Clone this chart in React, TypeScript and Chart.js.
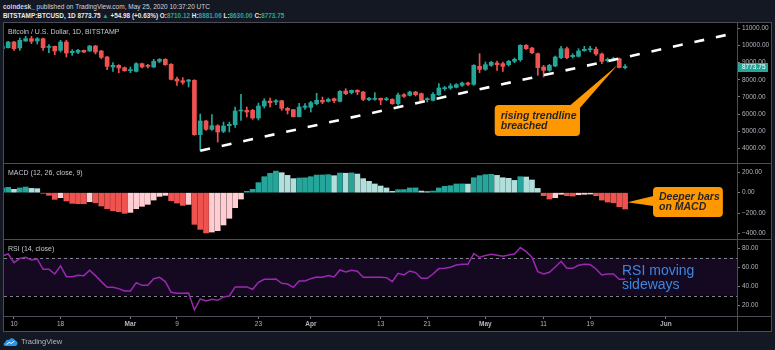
import React, { useEffect, useRef } from "react";
import { Chart, registerables } from "chart.js";

Chart.register(...registerables);

// ---------- data (day index 0 = 10 Feb 2020, first candle = 8 Feb) ----------
const FIRST_DAY = -2;

const OPEN = [
  9816, 9875, 10206, 9855, 10264, 10400, 10264, 10400, 9894, 9953, 9719, 10206, 9583, 9602, 9719, 9680, 9972, 9680, 9330, 8746, 8843, 8707,
  8532, 8493, 8941, 8843, 8746, 9077, 9194, 8902, 8045, 7948, 7909, 7968, 4796, 5594, 5107, 5321, 4991, 5321, 5379, 6177, 6216, 6216, 5769, 6469, 6761, 6703, 6780, 6333, 6255, 5847, 6391,
  6391, 6605, 6800, 6741, 6897, 6741, 7345, 7248, 7384, 7286, 6839, 6858, 6917, 6839, 6858, 6605, 7131, 7092, 7286, 7189, 6839, 6800, 7131, 7481, 7520, 7559, 7676, 7812, 7734, 8785,
  8610, 8843, 8980, 8941, 8882, 9077, 9174, 10011, 9855, 9525, 8746, 8551, 8804, 9291, 9816, 9349, 9369, 9700, 9758, 9778, 9505, 9116, 9174, 9233, 8710.12,
];
const HIGH = [
  9990, 10245, 10245, 10439, 10536, 10536, 10459, 10439, 10050, 9972, 10303, 10303, 9758, 9778, 9739, 10011, 10011, 9719, 9369, 8999, 8882, 8746,
  8746, 8999, 8980, 8902, 9194, 9233, 9233, 8941, 8162, 8123, 8026, 8007, 6002, 5633, 5963, 5379, 5535, 5535, 6411, 7150, 6411, 6275, 6644, 6897, 6936, 6839, 6800, 6391, 6275, 6625, 6605,
  6741, 7209, 6995, 6936, 6936, 7364, 7481, 7403, 7423, 7325, 6975, 7248, 6936, 6975, 6897, 7228, 7189, 7345, 7325, 7228, 6956, 7248, 7773, 7617, 7773, 7773, 7870, 7870, 8882, 9525,
  9038, 9077, 9096, 9038, 9135, 9272, 10050, 10050, 9894, 9563, 8843, 8902, 9388, 9953, 9914, 9525, 9816, 9953, 9953, 9914, 9563, 9272, 9310, 9272, 8881.06,
];
const LOW = [
  9780, 9855, 9719, 9719, 10245, 10108, 10089, 9719, 9583, 9466, 9622, 9330, 9427, 9525, 9583, 9661, 9505, 9233, 8590, 8493, 8415, 8493,
  8415, 8454, 8688, 8688, 8707, 8999, 8843, 7987, 7676, 7734, 7578, 4757, 3881, 5049, 5049, 4368, 4913, 4952, 5224, 5633, 5827, 5691, 5652, 6352, 6411, 6547, 6216, 6002, 5827, 5827, 6275,
  6119, 6547, 6605, 6703, 6664, 6703, 7131, 7170, 7131, 6780, 6780, 6800, 6547, 6780, 6567, 6508, 6975, 7053, 7053, 6703, 6703, 6761, 7092, 7384, 7442, 7520, 7617, 7676, 7676, 8415,
  8551, 8785, 8551, 8493, 8804, 8999, 9077, 9778, 9525, 8260, 8162, 8493, 8765, 9233, 9233, 9272, 9330, 9661, 9622, 9427, 8941, 9038, 9096, 8688, 8630.0,
];
const CLOSE = [
  9953, 10206, 9816, 10303, 10400, 10245, 10400, 9875, 9953, 9680, 10206, 9563, 9661, 9719, 9622, 9972, 9622, 9310, 8785, 8843, 8688, 8532,
  8590, 8941, 8746, 8785, 9077, 9194, 8882, 8026, 7929, 7851, 7987, 4796, 5594, 5107, 5321, 4952, 5301, 5399, 6177, 6216, 6119, 5769, 6469, 6761, 6664, 6780, 6333, 6216, 5847, 6411, 6469,
  6664, 6800, 6703, 6858, 6780, 7325, 7189, 7384, 7286, 6858, 6917, 6897, 6819, 6897, 6605, 7111, 7033, 7286, 7131, 6800, 6897, 7150, 7520, 7540, 7637, 7715, 7812, 7734, 8843, 8610,
  8882, 9018, 8882, 8785, 9077, 9194, 10011, 9816, 9583, 8707, 8551, 8843, 9330, 9816, 9291, 9427, 9680, 9778, 9816, 9505, 9077, 9194, 9233, 8718.77, 8773.75,
];
const MACD_HIST = [
  45, 52, 33, 46, 55, 42, 39, -6, -26, -65, -49, -81, -104, -107, -108, -88, -98, -130, -156, -176, -185, -202,
  -192, -156, -133, -114, -72, -36, -26, -78, -101, -124, -114, -309, -358, -393, -384, -371, -315, -250, -146, -62, 13, 33, 98, 156, 189, 211, 195, 169, 137, 143, 145,
  156, 172, 173, 176, 166, 192, 190, 193, 182, 137, 111, 85, 65, 46, 13, 29, 30, 46, 47, 16, 10, 16, 46, 62, 68, 85, 86, 84, 146, 166,
  176, 179, 169, 146, 140, 120, 156, 153, 124, 42, -29, -62, -49, -16, -29, -33, -20, -16, -13, -29, -72, -91, -98, -137, -159,
];
const RSI = [
  71.9, 74, 64.9, 69.4, 70.5, 67.7, 68.7, 57.9, 57.9, 52.9, 61.4, 50.1, 50.1, 51.5, 51.2, 56.8, 51.2, 44.9, 38.9, 38.9, 37.5, 35.1,
  35.1, 43.8, 41, 41, 48, 49.4, 44.9, 33.7, 32.6, 32.6, 33, 15.1, 26.6, 24.5, 26.3, 25.2, 28.8, 29.8, 39.3, 39.3, 39.3, 36.8, 44.2, 47.3, 47.3, 47.7, 43.1, 42.4, 38.9, 45.6, 45.6,
  48, 49.8, 49.4, 51.2, 49.8, 57.2, 55.1, 56.8, 55.8, 49.4, 49.4, 49.4, 49.4, 49.1, 44.9, 53.7, 51.9, 56.1, 54.4, 48.4, 48.4, 52.9, 58.6, 58.9, 60, 62.4, 63.1, 63.1, 74.4, 70.5,
  72.3, 73.7, 72.6, 71.6, 73, 74, 80.7, 76.5, 70.5, 55.4, 52.9, 54.7, 60.3, 66.3, 58.9, 58.9, 62.1, 63.1, 62.8, 58.2, 51.9, 52.9, 52.9, 47.3, 47.3,
];
const DAYS = OPEN.map((_, i) => FIRST_DAY + i);

const TIME_TICKS = [0, 8, 20, 28, 42, 51, 63, 71, 81, 91, 99, 112];
const TIME_LABELS = ["10", "18", "Mar", "9", "23", "Apr", "13", "21", "May", "11", "19", "Jun"];
const PRICE_TICKS = [4000, 5000, 6000, 7000, 8000, 9000, 10000, 11000];
const MACD_TICKS = [200, 0, -200, -400];
const RSI_TICKS = [80, 60, 40, 20];
const RSI_BAND = [30, 70];
const TREND_DAYS = [32, 130];
const TREND_VALUES = [3860, 11183];

// ---------- styling ----------
const FONT = '"Liberation Sans", Arial, sans-serif';
const GREEN = "#26a69a";
const RED = "#ef5350";
const LIGHT_GREEN = "#b2dfdb";
const PINK = "#ffcdd2";
const TICK_TEXT = "#b2b5be";
const LINE_GRAY = "#4a4d57";
const X_MIN = -1.718;
const X_MAX = 124.23;

const candleColors = OPEN.map((o, i) => (CLOSE[i] >= o ? GREEN : RED));
const macdColors = MACD_HIST.map((v, i) => {
  const prev = i > 0 ? MACD_HIST[i - 1] : v;
  if (v >= 0) return v >= prev ? GREEN : LIGHT_GREEN;
  return v < prev ? RED : PINK;
});

const fmt2 = (v: number) => (v < 0 ? "\u2212" + Math.abs(v).toFixed(2) : Number(v).toFixed(2));

function xHidden() {
  return {
    type: "linear",
    min: X_MIN,
    max: X_MAX,
    bounds: "data",
    offset: false,
    display: false,
    grid: { offset: false },
  };
}

function yRight(min: number, max: number, ticks: number[]) {
  return {
    type: "linear",
    position: "right",
    min,
    max,
    bounds: "data",
    grace: 0,
    afterBuildTicks: (s: any) => {
      s.ticks = ticks.map((v) => ({ value: v }));
    },
    afterFit: (s: any) => {
      s.width = 34;
      s.paddingTop = 0;
      s.paddingBottom = 0;
    },
    grid: { display: true, drawOnChartArea: false, drawTicks: true, tickLength: 3, color: "#787b86", tickColor: "#787b86" },
    border: { display: false },
    ticks: { autoSkip: false, padding: 2, color: TICK_TEXT, font: { size: 6.5, family: FONT }, callback: (v: any) => fmt2(Number(v)) },
  };
}

function baseOptions(scales: any) {
  return {
    animation: false,
    responsive: false,
    devicePixelRatio: 1,
    events: [],
    layout: { padding: 0 },
    plugins: { legend: { display: false }, tooltip: { enabled: false }, title: { display: false } },
    scales,
  };
}

function roundRectPath(ctx: any, x: number, y: number, w: number, h: number, r: number) {
  ctx.beginPath();
  ctx.moveTo(x + r, y);
  ctx.lineTo(x + w - r, y);
  ctx.quadraticCurveTo(x + w, y, x + w, y + r);
  ctx.lineTo(x + w, y + h - r);
  ctx.quadraticCurveTo(x + w, y + h, x + w - r, y + h);
  ctx.lineTo(x + r, y + h);
  ctx.quadraticCurveTo(x, y + h, x, y + h - r);
  ctx.lineTo(x, y + r);
  ctx.quadraticCurveTo(x, y, x + r, y);
  ctx.closePath();
}

function drawCallout(chart: any, spec: any) {
  const { ctx, scales } = chart;
  const xs = scales.x;
  const ys = scales.y;
  const left = xs.getPixelForValue(spec.dayLeft);
  const right = xs.getPixelForValue(spec.dayRight);
  const top = ys.getPixelForValue(spec.top);
  const bottom = ys.getPixelForValue(spec.bottom);
  const tipX = xs.getPixelForValue(spec.tipDay);
  const tipY = ys.getPixelForValue(spec.tipValue);
  const b = spec.base(left, top, right, bottom);
  ctx.save();
  ctx.fillStyle = "#ff9800";
  ctx.beginPath();
  ctx.moveTo(b[0], b[1]);
  ctx.lineTo(tipX, tipY);
  ctx.lineTo(b[2], b[3]);
  ctx.closePath();
  ctx.fill();
  roundRectPath(ctx, left, top, right - left, bottom - top, 4);
  ctx.fill();
  ctx.fillStyle = "#262626";
  ctx.font = `italic bold 10.5px ${FONT}`;
  ctx.textBaseline = "alphabetic";
  ctx.textAlign = "left";
  spec.lines.forEach((t: string, i: number) => {
    ctx.fillText(t, left + 6, top + spec.baselines[i]);
  });
  ctx.restore();
}

const mainOverlay = {
  id: "mainOverlay",
  afterDraw(chart: any) {
    drawCallout(chart, {
      dayLeft: 82.6,
      dayRight: 97.25,
      top: 6528,
      bottom: 4718,
      tipDay: 103.7,
      tipValue: 8860,
      base: (l: number, t: number, r: number) => [r - 10, t + 0.5, r - 1, t + 4],
      lines: ["rising trendline", "breached"],
      baselines: [13.7, 23.7],
    });
    const { ctx, chartArea: a, scales } = chart;
    const last = CLOSE[CLOSE.length - 1];
    const y0 = scales.y.getPixelForValue(last);
    ctx.save();
    ctx.fillStyle = GREEN;
    ctx.fillRect(a.right + 1, Math.round(y0) - 4, 30, 9);
    ctx.fillStyle = "#ffffff";
    ctx.font = `6.5px ${FONT}`;
    ctx.textBaseline = "middle";
    ctx.textAlign = "left";
    ctx.fillText(last.toFixed(2), a.right + 5, Math.round(y0) + 0.5);
    ctx.restore();
  },
};

const macdOverlay = {
  id: "macdOverlay",
  afterDraw(chart: any) {
    drawCallout(chart, {
      dayLeft: 109.8,
      dayRight: 121.8,
      top: 55.6,
      bottom: -237,
      tipDay: 105.4,
      tipValue: -94,
      base: (l: number, t: number) => [l + 0.5, t + 9, l + 0.5, t + 19],
      lines: ["Deeper bars", "on MACD"],
      baselines: [12.7, 23],
    });
  },
};

const rsiBand = {
  id: "rsiBand",
  beforeDatasetsDraw(chart: any) {
    const { ctx, chartArea: a, scales } = chart;
    const yTop = scales.y.getPixelForValue(RSI_BAND[1]);
    const yBot = scales.y.getPixelForValue(RSI_BAND[0]);
    ctx.save();
    ctx.fillStyle = "rgb(21, 9, 34)";
    ctx.fillRect(a.left, yTop, a.right - a.left, yBot - yTop);
    ctx.strokeStyle = "#80838c";
    ctx.lineWidth = 1;
    ctx.setLineDash([3, 3]);
    [yTop, yBot].forEach((yy) => {
      const p = Math.round(yy) + 0.5;
      ctx.beginPath();
      ctx.moveTo(a.left, p);
      ctx.lineTo(a.right, p);
      ctx.stroke();
    });
    ctx.restore();
  },
};

function makeMain(canvas: HTMLCanvasElement) {
  return new Chart(canvas, {
    type: "bar",
    data: {
      datasets: [
        {
          type: "line",
          data: TREND_DAYS.map((d, i) => ({ x: d, y: TREND_VALUES[i] })),
          borderColor: "#ffffff",
          borderWidth: 2.6,
          borderDash: [10, 12],
          pointRadius: 0,
          clip: 0,
          order: 0,
        },
        {
          type: "bar",
          data: DAYS.map((d, i) => ({ x: d, y: [OPEN[i], CLOSE[i]] })),
          backgroundColor: candleColors,
          barThickness: 4,
          minBarLength: 1,
          grouped: false,
          borderWidth: 0,
          clip: 0,
          order: 1,
        },
        {
          type: "bar",
          data: DAYS.map((d, i) => ({ x: d, y: [LOW[i], HIGH[i]] })),
          backgroundColor: candleColors,
          barThickness: 1,
          grouped: false,
          borderWidth: 0,
          clip: 0,
          order: 2,
        },
      ],
    } as any,
    options: baseOptions({ x: xHidden(), y: yRight(3142, 11315, PRICE_TICKS) }) as any,
    plugins: [mainOverlay],
  });
}

function makeMacd(canvas: HTMLCanvasElement) {
  return new Chart(canvas, {
    type: "bar",
    data: {
      datasets: [
        {
          data: DAYS.map((d, i) => ({ x: d, y: MACD_HIST[i] })),
          backgroundColor: macdColors,
          barThickness: 5,
          grouped: false,
          borderWidth: 0,
          clip: 0,
        },
      ],
    } as any,
    options: baseOptions({ x: xHidden(), y: yRight(-452, 280, MACD_TICKS) }) as any,
    plugins: [macdOverlay],
  });
}

function makeRsi(canvas: HTMLCanvasElement) {
  const xAxis = {
    type: "linear",
    position: "bottom",
    min: X_MIN,
    max: X_MAX,
    bounds: "data",
    offset: false,
    afterBuildTicks: (s: any) => {
      s.ticks = TIME_TICKS.map((v) => ({ value: v }));
    },
    afterFit: (s: any) => {
      s.height = 15;
      s.paddingLeft = 0;
      s.paddingRight = 0;
    },
    grid: { display: true, drawOnChartArea: false, drawTicks: true, tickLength: 3, color: "#787b86", tickColor: "#787b86" },
    border: { display: false },
    ticks: {
      autoSkip: false,
      maxRotation: 0,
      minRotation: 0,
      padding: 1,
      color: TICK_TEXT,
      font: (c: any) => ({
        size: 6.5,
        family: FONT,
        weight: /^[A-Z]/.test(TIME_LABELS[c.index] || "") ? "bold" : "normal",
      }),
      callback: (_v: any, i: number) => TIME_LABELS[i],
    },
  };
  return new Chart(canvas, {
    type: "line",
    data: {
      datasets: [
        {
          data: DAYS.map((d, i) => ({ x: d, y: RSI[i] })),
          borderColor: "#9c27b0",
          borderWidth: 1.5,
          pointRadius: 0,
          tension: 0,
          clip: 0,
        },
      ],
    } as any,
    options: baseOptions({ x: xAxis, y: yRight(8.7, 88.7, RSI_TICKS) }) as any,
    plugins: [rsiBand],
  });
}

const abs = (left: number, top: number, extra: any = {}) => ({ position: "absolute" as const, left, top, ...extra });

export default function App() {
  const mainRef = useRef<HTMLCanvasElement>(null);
  const macdRef = useRef<HTMLCanvasElement>(null);
  const rsiRef = useRef<HTMLCanvasElement>(null);

  useEffect(() => {
    const charts = [makeMain(mainRef.current!), makeMacd(macdRef.current!), makeRsi(rsiRef.current!)];
    return () => charts.forEach((c) => c.destroy());
  }, []);

  const last = OPEN.length - 1;
  const change = CLOSE[last] - CLOSE[last - 1];
  const teal = { color: GREEN };
  const label = { color: "#c5c8d0", fontSize: 7, lineHeight: "9px", whiteSpace: "nowrap" as const };

  return (
    <div style={{ position: "absolute", left: 0, top: 0, width: 775, height: 350, background: "#141823", overflow: "hidden", fontFamily: FONT }}>
      <div style={abs(3, 2, { fontSize: 6.5, lineHeight: "9px", color: "#d1d4dc", whiteSpace: "nowrap" })}>
        <b>coindesk_</b> published on TradingView.com, May 25, 2020 10:37:20 UTC
      </div>
      <div style={abs(3, 11, { fontSize: 6.4, lineHeight: "9px", color: "#e8e9ec", fontWeight: "bold", whiteSpace: "nowrap" })}>
        BITSTAMP:BTCUSD, 1D {CLOSE[last].toFixed(2)} <span style={teal}>▲</span> +{change.toFixed(2)} (+{((change / CLOSE[last - 1]) * 100).toFixed(2)}%) O:
        <span style={teal}>{OPEN[last].toFixed(2)}</span> H:<span style={teal}>{HIGH[last].toFixed(2)}</span> L:
        <span style={teal}>{LOW[last].toFixed(2)}</span> C:<span style={teal}>{CLOSE[last].toFixed(2)}</span>
      </div>

      <div style={abs(3, 22, { width: 769, height: 310, boxSizing: "border-box", border: `1px solid ${LINE_GRAY}`, background: "#000" })} />

      <canvas ref={mainRef} width={767} height={140} style={abs(4, 23, { display: "block", width: 767, height: 140 })} />
      <canvas ref={macdRef} width={767} height={75} style={abs(4, 164, { display: "block", width: 767, height: 75 })} />
      <canvas ref={rsiRef} width={767} height={91} style={abs(4, 240, { display: "block", width: 767, height: 91 })} />

      <div style={abs(4, 163, { width: 767, height: 1, background: LINE_GRAY })} />
      <div style={abs(4, 239, { width: 767, height: 1, background: LINE_GRAY })} />
      <div style={abs(4, 316, { width: 767, height: 1, background: LINE_GRAY })} />
      <div style={abs(737, 23, { width: 1, height: 308, background: LINE_GRAY })} />

      <div style={abs(8, 26.5, label)}>Bitcoin / U.S. Dollar, 1D, BITSTAMP</div>
      <div style={abs(8, 168, label)}>MACD (12, 26, close, 9)</div>
      <div style={abs(8, 244, label)}>RSI (14, close)</div>

      <div style={abs(622, 263, { fontSize: 14, lineHeight: "14px", color: "#3d86e0", whiteSpace: "nowrap" })}>
        RSI moving
        <br />
        sideways
      </div>

      <div style={abs(3, 336.5, { display: "flex", alignItems: "center", gap: 3 })}>
        <svg width="15" height="9" viewBox="0 0 15 9">
          <path d="M2.5 9 C0 9 0 5.8 2.3 5.5 C2.3 3 4.6 2.2 6.1 3.1 C7.2 0.4 11.2 0.6 11.8 3.6 C14 3.6 15.3 6.2 14.1 7.8 C13.6 8.6 13 9 12 9 Z" fill="#2196f3" />
          <polyline points="3.5,7.6 6.2,5.2 8.2,6.6 11.6,3.8" stroke="#ffffff" strokeWidth="1" fill="none" />
        </svg>
        <span style={{ fontSize: 7.5, color: "#b2b5be", lineHeight: "9px" }}>TradingView</span>
      </div>
    </div>
  );
}
